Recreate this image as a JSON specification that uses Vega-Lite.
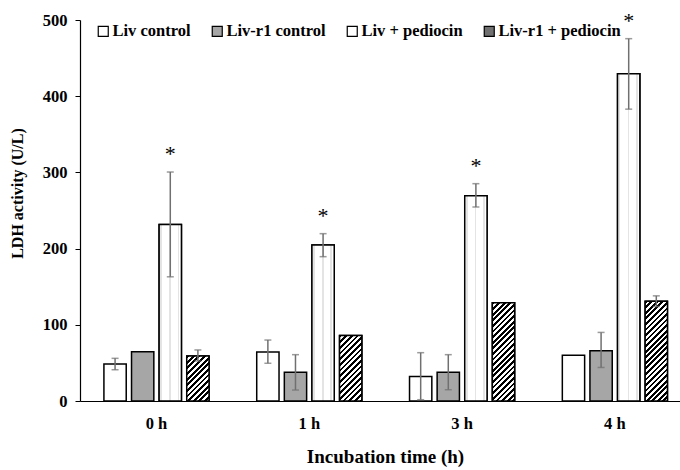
{
  "$schema": "https://vega.github.io/schema/vega-lite/v6.json",
  "width": 600,
  "height": 381,
  "autosize": {"type": "none"},
  "padding": {"left": 80, "top": 20, "right": 0, "bottom": 69},
  "background": "white",
  "config": {
    "view": {"stroke": null},
    "font": "Liberation Serif",
    "axis": {"labelFont": "Liberation Serif", "titleFont": "Liberation Serif", "labelFontWeight": "bold", "titleFontWeight": "bold", "labelColor": "black", "titleColor": "black", "domainColor": "black", "tickColor": "black", "grid": false, "labelOverlap": false},
    "axisY": {"tickCount": 10, "labelOverlap": false, "labelSeparation": 0, "labelBound": false, "labelFlush": false, "labelFontSize": 16.5, "tickSize": 5, "labelPadding": 8, "domainWidth": 1.2, "titleFontSize": 16, "titleX": -63, "titleY": 173, "titleAngle": -90, "titleBaseline": "middle", "titleAlign": "center"}
  },
  "data": {"values": [
    {"time": "0 h", "group": "Liv control", "value": 48.5, "lo": 41, "hi": 56, "star": false},
    {"time": "0 h", "group": "Liv-r1 control", "value": 64.5, "lo": null, "hi": null, "star": false},
    {"time": "0 h", "group": "Liv + pediocin", "value": 231.5, "lo": 163, "hi": 300.5, "star": true},
    {"time": "0 h", "group": "Liv-r1 + pediocin", "value": 59, "lo": 52.5, "hi": 67, "star": false},
    {"time": "1 h", "group": "Liv control", "value": 64.3, "lo": 49.5, "hi": 80, "star": false},
    {"time": "1 h", "group": "Liv-r1 control", "value": 37.6, "lo": 14.4, "hi": 60.8, "star": false},
    {"time": "1 h", "group": "Liv + pediocin", "value": 204.7, "lo": 189.4, "hi": 219.6, "star": true},
    {"time": "1 h", "group": "Liv-r1 + pediocin", "value": 86, "lo": null, "hi": null, "star": false},
    {"time": "3 h", "group": "Liv control", "value": 32, "lo": 1.7, "hi": 63.4, "star": false},
    {"time": "3 h", "group": "Liv-r1 control", "value": 37.6, "lo": 14.8, "hi": 60.8, "star": false},
    {"time": "3 h", "group": "Liv + pediocin", "value": 269.5, "lo": 254.6, "hi": 285.2, "star": true},
    {"time": "3 h", "group": "Liv-r1 + pediocin", "value": 129, "lo": null, "hi": null, "star": false},
    {"time": "4 h", "group": "Liv control", "value": 60, "lo": null, "hi": null, "star": false},
    {"time": "4 h", "group": "Liv-r1 control", "value": 66, "lo": 44, "hi": 90, "star": false},
    {"time": "4 h", "group": "Liv + pediocin", "value": 429.5, "lo": 383, "hi": 475.5, "star": true},
    {"time": "4 h", "group": "Liv-r1 + pediocin", "value": 131, "lo": 124, "hi": 138, "star": false}
  ]},
  "encoding": {
    "x": {
      "field": "time", "type": "nominal", "sort": ["0 h", "1 h", "3 h", "4 h"],
      "scale": {"paddingInner": 0.312, "paddingOuter": 0.1193, "align": 0.656, "round": false},
      "axis": {"title": "Incubation time (h)", "labelAngle": 0, "labelFontSize": 16.5, "ticks": false, "tickSize": 0, "labelPadding": 14, "domainWidth": 1.2, "titleFontSize": 19, "titleX": 305, "titleY": 61, "titleBaseline": "alphabetic", "titleAnchor": "middle", "titleAlign": "center"}
    },
    "xOffset": {"field": "group", "type": "nominal", "sort": ["Liv control", "Liv-r1 control", "Liv + pediocin", "Liv-r1 + pediocin"], "scale": {"paddingInner": 0.192, "paddingOuter": 0}}
  },
  "layer": [
    {
      "mark": {"type": "bar", "stroke": "black", "strokeWidth": 1.5},
      "encoding": {
        "y": {
          "field": "value", "type": "quantitative",
          "scale": {"domain": [0, 500], "nice": false},
          "axis": {"title": "LDH activity (U/L)", "values": [0, 50, 100, 150, 200, 250, 300, 350, 400, 450, 500], "tickCount": 10, "labelOverlap": false, "labelSeparation": 0, "labelBound": false}
        },
        "fill": {
          "field": "group", "type": "nominal",
          "sort": ["Liv control", "Liv-r1 control", "Liv + pediocin", "Liv-r1 + pediocin"],
          "scale": {"domain": ["Liv control", "Liv-r1 control", "Liv + pediocin", "Liv-r1 + pediocin"], "range": ["#ffffff", "#a6a6a6", "#ffffff", "#707070"]},
          "legend": {"title": null, "orient": "none", "direction": "horizontal", "legendX": 15, "legendY": 3, "symbolType": "square", "symbolSize": 100, "symbolStrokeColor": "black", "symbolStrokeWidth": 1.2, "labelFont": "Liberation Serif", "labelFontWeight": "bold", "labelFontSize": 16.5, "labelColor": "black", "labelOffset": 1, "columnPadding": 18, "padding": 0, "labelLimit": 300,
            "encoding": {"symbols": {
              "stroke": {"value": "black"},
              "strokeWidth": {"value": 1.2},
              "fill": {"condition": [
                {"test": "datum.value === 'Liv-r1 + pediocin'", "value": {"gradient": "linear", "x1": 0, "y1": 0, "x2": 1, "y2": 1, "stops": [
                  {"offset": 0, "color": "#000"}, {"offset": 0.2, "color": "#000"}, {"offset": 0.2, "color": "#fff"}, {"offset": 0.4, "color": "#fff"}, {"offset": 0.4, "color": "#000"}, {"offset": 0.6, "color": "#000"}, {"offset": 0.6, "color": "#fff"}, {"offset": 0.8, "color": "#fff"}, {"offset": 0.8, "color": "#000"}, {"offset": 1, "color": "#000"}]}},
                {"test": "datum.value === 'Liv-r1 control'", "value": "#a6a6a6"}
              ], "value": "#ffffff"}
            }}
          }
        }
      }
    },
    {
      "transform": [{"filter": "datum.group === 'Liv + pediocin'"}],
      "mark": {"type": "bar", "stroke": "black", "strokeWidth": 1.5, "fill": {"gradient": "linear", "x1": 0, "y1": 0, "x2": 1, "y2": 0, "stops": [
        {"offset": 0, "color": "#fff"}, {"offset": 0.06, "color": "#fff"}, {"offset": 0.06, "color": "#e4e4e4"}, {"offset": 0.13, "color": "#e4e4e4"}, {"offset": 0.13, "color": "#fff"},
        {"offset": 0.45, "color": "#fff"}, {"offset": 0.45, "color": "#e4e4e4"}, {"offset": 0.52, "color": "#e4e4e4"}, {"offset": 0.52, "color": "#fff"},
        {"offset": 0.83, "color": "#fff"}, {"offset": 0.83, "color": "#e4e4e4"}, {"offset": 0.9, "color": "#e4e4e4"}, {"offset": 0.9, "color": "#fff"}, {"offset": 1, "color": "#fff"}]}},
      "encoding": {"y": {"field": "value", "type": "quantitative", "axis": {"title": "LDH activity (U/L)", "values": [0, 50, 100, 150, 200, 250, 300, 350, 400, 450, 500], "tickCount": 10, "labelOverlap": false, "labelSeparation": 0, "labelBound": false}}}
    },
    {
      "transform": [{"filter": "datum.group === 'Liv-r1 + pediocin' && datum.time === '0 h'"}],
      "mark": {"type": "bar", "stroke": "black", "strokeWidth": 1.5, "fill": {"gradient": "linear", "x1": 0, "y1": 0, "x2": 0.5958, "y2": 1.2007, "stops": [
        {"offset": 0, "color": "#000"}, {"offset": 0.0417, "color": "#000"}, {"offset": 0.0417, "color": "#fff"}, {"offset": 0.0833, "color": "#fff"},
        {"offset": 0.0833, "color": "#000"}, {"offset": 0.125, "color": "#000"}, {"offset": 0.125, "color": "#fff"}, {"offset": 0.1667, "color": "#fff"},
        {"offset": 0.1667, "color": "#000"}, {"offset": 0.2083, "color": "#000"}, {"offset": 0.2083, "color": "#fff"}, {"offset": 0.25, "color": "#fff"},
        {"offset": 0.25, "color": "#000"}, {"offset": 0.2917, "color": "#000"}, {"offset": 0.2917, "color": "#fff"}, {"offset": 0.3333, "color": "#fff"},
        {"offset": 0.3333, "color": "#000"}, {"offset": 0.375, "color": "#000"}, {"offset": 0.375, "color": "#fff"}, {"offset": 0.4167, "color": "#fff"},
        {"offset": 0.4167, "color": "#000"}, {"offset": 0.4583, "color": "#000"}, {"offset": 0.4583, "color": "#fff"}, {"offset": 0.5, "color": "#fff"},
        {"offset": 0.5, "color": "#000"}, {"offset": 0.5417, "color": "#000"}, {"offset": 0.5417, "color": "#fff"}, {"offset": 0.5833, "color": "#fff"},
        {"offset": 0.5833, "color": "#000"}, {"offset": 0.625, "color": "#000"}, {"offset": 0.625, "color": "#fff"}, {"offset": 0.6667, "color": "#fff"},
        {"offset": 0.6667, "color": "#000"}, {"offset": 0.7083, "color": "#000"}, {"offset": 0.7083, "color": "#fff"}, {"offset": 0.75, "color": "#fff"},
        {"offset": 0.75, "color": "#000"}, {"offset": 0.7917, "color": "#000"}, {"offset": 0.7917, "color": "#fff"}, {"offset": 0.8333, "color": "#fff"},
        {"offset": 0.8333, "color": "#000"}, {"offset": 0.875, "color": "#000"}, {"offset": 0.875, "color": "#fff"}, {"offset": 0.9167, "color": "#fff"},
        {"offset": 0.9167, "color": "#000"}, {"offset": 0.9583, "color": "#000"}, {"offset": 0.9583, "color": "#fff"}, {"offset": 1, "color": "#fff"}]}},
      "encoding": {"y": {"field": "value", "type": "quantitative", "axis": {"title": "LDH activity (U/L)", "values": [0, 50, 100, 150, 200, 250, 300, 350, 400, 450, 500], "tickCount": 10, "labelOverlap": false, "labelSeparation": 0, "labelBound": false}}}
    },
    {
      "transform": [{"filter": "datum.group === 'Liv-r1 + pediocin' && datum.time === '1 h'"}],
      "mark": {"type": "bar", "stroke": "black", "strokeWidth": 1.5, "fill": {"gradient": "linear", "x1": 0, "y1": 0, "x2": 0.409, "y2": 1.2013, "stops": [
        {"offset": 0, "color": "#000"}, {"offset": 0.0323, "color": "#000"}, {"offset": 0.0323, "color": "#fff"}, {"offset": 0.0645, "color": "#fff"},
        {"offset": 0.0645, "color": "#000"}, {"offset": 0.0968, "color": "#000"}, {"offset": 0.0968, "color": "#fff"}, {"offset": 0.129, "color": "#fff"},
        {"offset": 0.129, "color": "#000"}, {"offset": 0.1613, "color": "#000"}, {"offset": 0.1613, "color": "#fff"}, {"offset": 0.1935, "color": "#fff"},
        {"offset": 0.1935, "color": "#000"}, {"offset": 0.2258, "color": "#000"}, {"offset": 0.2258, "color": "#fff"}, {"offset": 0.2581, "color": "#fff"},
        {"offset": 0.2581, "color": "#000"}, {"offset": 0.2903, "color": "#000"}, {"offset": 0.2903, "color": "#fff"}, {"offset": 0.3226, "color": "#fff"},
        {"offset": 0.3226, "color": "#000"}, {"offset": 0.3548, "color": "#000"}, {"offset": 0.3548, "color": "#fff"}, {"offset": 0.3871, "color": "#fff"},
        {"offset": 0.3871, "color": "#000"}, {"offset": 0.4194, "color": "#000"}, {"offset": 0.4194, "color": "#fff"}, {"offset": 0.4516, "color": "#fff"},
        {"offset": 0.4516, "color": "#000"}, {"offset": 0.4839, "color": "#000"}, {"offset": 0.4839, "color": "#fff"}, {"offset": 0.5161, "color": "#fff"},
        {"offset": 0.5161, "color": "#000"}, {"offset": 0.5484, "color": "#000"}, {"offset": 0.5484, "color": "#fff"}, {"offset": 0.5806, "color": "#fff"},
        {"offset": 0.5806, "color": "#000"}, {"offset": 0.6129, "color": "#000"}, {"offset": 0.6129, "color": "#fff"}, {"offset": 0.6452, "color": "#fff"},
        {"offset": 0.6452, "color": "#000"}, {"offset": 0.6774, "color": "#000"}, {"offset": 0.6774, "color": "#fff"}, {"offset": 0.7097, "color": "#fff"},
        {"offset": 0.7097, "color": "#000"}, {"offset": 0.7419, "color": "#000"}, {"offset": 0.7419, "color": "#fff"}, {"offset": 0.7742, "color": "#fff"},
        {"offset": 0.7742, "color": "#000"}, {"offset": 0.8065, "color": "#000"}, {"offset": 0.8065, "color": "#fff"}, {"offset": 0.8387, "color": "#fff"},
        {"offset": 0.8387, "color": "#000"}, {"offset": 0.871, "color": "#000"}, {"offset": 0.871, "color": "#fff"}, {"offset": 0.9032, "color": "#fff"},
        {"offset": 0.9032, "color": "#000"}, {"offset": 0.9355, "color": "#000"}, {"offset": 0.9355, "color": "#fff"}, {"offset": 0.9677, "color": "#fff"},
        {"offset": 0.9677, "color": "#000"}, {"offset": 1, "color": "#000"}]}},
      "encoding": {"y": {"field": "value", "type": "quantitative", "axis": {"title": "LDH activity (U/L)", "values": [0, 50, 100, 150, 200, 250, 300, 350, 400, 450, 500], "tickCount": 10, "labelOverlap": false, "labelSeparation": 0, "labelBound": false}}}
    },
    {
      "transform": [{"filter": "datum.group === 'Liv-r1 + pediocin' && datum.time === '3 h'"}],
      "mark": {"type": "bar", "stroke": "black", "strokeWidth": 1.5, "fill": {"gradient": "linear", "x1": 0, "y1": 0, "x2": 0.2648, "y2": 1.1668, "stops": [
        {"offset": 0, "color": "#000"}, {"offset": 0.0233, "color": "#000"}, {"offset": 0.0233, "color": "#fff"}, {"offset": 0.0465, "color": "#fff"},
        {"offset": 0.0465, "color": "#000"}, {"offset": 0.0698, "color": "#000"}, {"offset": 0.0698, "color": "#fff"}, {"offset": 0.093, "color": "#fff"},
        {"offset": 0.093, "color": "#000"}, {"offset": 0.1163, "color": "#000"}, {"offset": 0.1163, "color": "#fff"}, {"offset": 0.1395, "color": "#fff"},
        {"offset": 0.1395, "color": "#000"}, {"offset": 0.1628, "color": "#000"}, {"offset": 0.1628, "color": "#fff"}, {"offset": 0.186, "color": "#fff"},
        {"offset": 0.186, "color": "#000"}, {"offset": 0.2093, "color": "#000"}, {"offset": 0.2093, "color": "#fff"}, {"offset": 0.2326, "color": "#fff"},
        {"offset": 0.2326, "color": "#000"}, {"offset": 0.2558, "color": "#000"}, {"offset": 0.2558, "color": "#fff"}, {"offset": 0.2791, "color": "#fff"},
        {"offset": 0.2791, "color": "#000"}, {"offset": 0.3023, "color": "#000"}, {"offset": 0.3023, "color": "#fff"}, {"offset": 0.3256, "color": "#fff"},
        {"offset": 0.3256, "color": "#000"}, {"offset": 0.3488, "color": "#000"}, {"offset": 0.3488, "color": "#fff"}, {"offset": 0.3721, "color": "#fff"},
        {"offset": 0.3721, "color": "#000"}, {"offset": 0.3953, "color": "#000"}, {"offset": 0.3953, "color": "#fff"}, {"offset": 0.4186, "color": "#fff"},
        {"offset": 0.4186, "color": "#000"}, {"offset": 0.4419, "color": "#000"}, {"offset": 0.4419, "color": "#fff"}, {"offset": 0.4651, "color": "#fff"},
        {"offset": 0.4651, "color": "#000"}, {"offset": 0.4884, "color": "#000"}, {"offset": 0.4884, "color": "#fff"}, {"offset": 0.5116, "color": "#fff"},
        {"offset": 0.5116, "color": "#000"}, {"offset": 0.5349, "color": "#000"}, {"offset": 0.5349, "color": "#fff"}, {"offset": 0.5581, "color": "#fff"},
        {"offset": 0.5581, "color": "#000"}, {"offset": 0.5814, "color": "#000"}, {"offset": 0.5814, "color": "#fff"}, {"offset": 0.6047, "color": "#fff"},
        {"offset": 0.6047, "color": "#000"}, {"offset": 0.6279, "color": "#000"}, {"offset": 0.6279, "color": "#fff"}, {"offset": 0.6512, "color": "#fff"},
        {"offset": 0.6512, "color": "#000"}, {"offset": 0.6744, "color": "#000"}, {"offset": 0.6744, "color": "#fff"}, {"offset": 0.6977, "color": "#fff"},
        {"offset": 0.6977, "color": "#000"}, {"offset": 0.7209, "color": "#000"}, {"offset": 0.7209, "color": "#fff"}, {"offset": 0.7442, "color": "#fff"},
        {"offset": 0.7442, "color": "#000"}, {"offset": 0.7674, "color": "#000"}, {"offset": 0.7674, "color": "#fff"}, {"offset": 0.7907, "color": "#fff"},
        {"offset": 0.7907, "color": "#000"}, {"offset": 0.814, "color": "#000"}, {"offset": 0.814, "color": "#fff"}, {"offset": 0.8372, "color": "#fff"},
        {"offset": 0.8372, "color": "#000"}, {"offset": 0.8605, "color": "#000"}, {"offset": 0.8605, "color": "#fff"}, {"offset": 0.8837, "color": "#fff"},
        {"offset": 0.8837, "color": "#000"}, {"offset": 0.907, "color": "#000"}, {"offset": 0.907, "color": "#fff"}, {"offset": 0.9302, "color": "#fff"},
        {"offset": 0.9302, "color": "#000"}, {"offset": 0.9535, "color": "#000"}, {"offset": 0.9535, "color": "#fff"}, {"offset": 0.9767, "color": "#fff"},
        {"offset": 0.9767, "color": "#000"}, {"offset": 1, "color": "#000"}]}},
      "encoding": {"y": {"field": "value", "type": "quantitative", "axis": {"title": "LDH activity (U/L)", "values": [0, 50, 100, 150, 200, 250, 300, 350, 400, 450, 500], "tickCount": 10, "labelOverlap": false, "labelSeparation": 0, "labelBound": false}}}
    },
    {
      "transform": [{"filter": "datum.group === 'Liv-r1 + pediocin' && datum.time === '4 h'"}],
      "mark": {"type": "bar", "stroke": "black", "strokeWidth": 1.5, "fill": {"gradient": "linear", "x1": 0, "y1": 0, "x2": 0.2604, "y2": 1.1652, "stops": [
        {"offset": 0, "color": "#000"}, {"offset": 0.0227, "color": "#000"}, {"offset": 0.0227, "color": "#fff"}, {"offset": 0.0455, "color": "#fff"},
        {"offset": 0.0455, "color": "#000"}, {"offset": 0.0682, "color": "#000"}, {"offset": 0.0682, "color": "#fff"}, {"offset": 0.0909, "color": "#fff"},
        {"offset": 0.0909, "color": "#000"}, {"offset": 0.1136, "color": "#000"}, {"offset": 0.1136, "color": "#fff"}, {"offset": 0.1364, "color": "#fff"},
        {"offset": 0.1364, "color": "#000"}, {"offset": 0.1591, "color": "#000"}, {"offset": 0.1591, "color": "#fff"}, {"offset": 0.1818, "color": "#fff"},
        {"offset": 0.1818, "color": "#000"}, {"offset": 0.2045, "color": "#000"}, {"offset": 0.2045, "color": "#fff"}, {"offset": 0.2273, "color": "#fff"},
        {"offset": 0.2273, "color": "#000"}, {"offset": 0.25, "color": "#000"}, {"offset": 0.25, "color": "#fff"}, {"offset": 0.2727, "color": "#fff"},
        {"offset": 0.2727, "color": "#000"}, {"offset": 0.2955, "color": "#000"}, {"offset": 0.2955, "color": "#fff"}, {"offset": 0.3182, "color": "#fff"},
        {"offset": 0.3182, "color": "#000"}, {"offset": 0.3409, "color": "#000"}, {"offset": 0.3409, "color": "#fff"}, {"offset": 0.3636, "color": "#fff"},
        {"offset": 0.3636, "color": "#000"}, {"offset": 0.3864, "color": "#000"}, {"offset": 0.3864, "color": "#fff"}, {"offset": 0.4091, "color": "#fff"},
        {"offset": 0.4091, "color": "#000"}, {"offset": 0.4318, "color": "#000"}, {"offset": 0.4318, "color": "#fff"}, {"offset": 0.4545, "color": "#fff"},
        {"offset": 0.4545, "color": "#000"}, {"offset": 0.4773, "color": "#000"}, {"offset": 0.4773, "color": "#fff"}, {"offset": 0.5, "color": "#fff"},
        {"offset": 0.5, "color": "#000"}, {"offset": 0.5227, "color": "#000"}, {"offset": 0.5227, "color": "#fff"}, {"offset": 0.5455, "color": "#fff"},
        {"offset": 0.5455, "color": "#000"}, {"offset": 0.5682, "color": "#000"}, {"offset": 0.5682, "color": "#fff"}, {"offset": 0.5909, "color": "#fff"},
        {"offset": 0.5909, "color": "#000"}, {"offset": 0.6136, "color": "#000"}, {"offset": 0.6136, "color": "#fff"}, {"offset": 0.6364, "color": "#fff"},
        {"offset": 0.6364, "color": "#000"}, {"offset": 0.6591, "color": "#000"}, {"offset": 0.6591, "color": "#fff"}, {"offset": 0.6818, "color": "#fff"},
        {"offset": 0.6818, "color": "#000"}, {"offset": 0.7045, "color": "#000"}, {"offset": 0.7045, "color": "#fff"}, {"offset": 0.7273, "color": "#fff"},
        {"offset": 0.7273, "color": "#000"}, {"offset": 0.75, "color": "#000"}, {"offset": 0.75, "color": "#fff"}, {"offset": 0.7727, "color": "#fff"},
        {"offset": 0.7727, "color": "#000"}, {"offset": 0.7955, "color": "#000"}, {"offset": 0.7955, "color": "#fff"}, {"offset": 0.8182, "color": "#fff"},
        {"offset": 0.8182, "color": "#000"}, {"offset": 0.8409, "color": "#000"}, {"offset": 0.8409, "color": "#fff"}, {"offset": 0.8636, "color": "#fff"},
        {"offset": 0.8636, "color": "#000"}, {"offset": 0.8864, "color": "#000"}, {"offset": 0.8864, "color": "#fff"}, {"offset": 0.9091, "color": "#fff"},
        {"offset": 0.9091, "color": "#000"}, {"offset": 0.9318, "color": "#000"}, {"offset": 0.9318, "color": "#fff"}, {"offset": 0.9545, "color": "#fff"},
        {"offset": 0.9545, "color": "#000"}, {"offset": 0.9773, "color": "#000"}, {"offset": 0.9773, "color": "#fff"}, {"offset": 1, "color": "#fff"}]}},
      "encoding": {"y": {"field": "value", "type": "quantitative", "axis": {"title": "LDH activity (U/L)", "values": [0, 50, 100, 150, 200, 250, 300, 350, 400, 450, 500], "tickCount": 10, "labelOverlap": false, "labelSeparation": 0, "labelBound": false}}}
    },
    {
      "transform": [{"filter": "isValid(datum.lo)"}],
      "mark": {"type": "rule", "color": "#707070", "strokeWidth": 1.5},
      "encoding": {"y": {"field": "lo", "type": "quantitative", "axis": {"title": "LDH activity (U/L)", "values": [0, 50, 100, 150, 200, 250, 300, 350, 400, 450, 500], "tickCount": 10, "labelOverlap": false, "labelSeparation": 0, "labelBound": false}}, "y2": {"field": "hi"}}
    },
    {
      "transform": [{"filter": "isValid(datum.lo)"}],
      "mark": {"type": "tick", "color": "#707070", "thickness": 1.5, "size": 7, "orient": "horizontal"},
      "encoding": {"y": {"field": "lo", "type": "quantitative", "axis": {"title": "LDH activity (U/L)", "values": [0, 50, 100, 150, 200, 250, 300, 350, 400, 450, 500], "tickCount": 10, "labelOverlap": false, "labelSeparation": 0, "labelBound": false}}}
    },
    {
      "transform": [{"filter": "isValid(datum.hi)"}],
      "mark": {"type": "tick", "color": "#707070", "thickness": 1.5, "size": 7, "orient": "horizontal"},
      "encoding": {"y": {"field": "hi", "type": "quantitative", "axis": {"title": "LDH activity (U/L)", "values": [0, 50, 100, 150, 200, 250, 300, 350, 400, 450, 500], "tickCount": 10, "labelOverlap": false, "labelSeparation": 0, "labelBound": false}}}
    },
    {
      "transform": [{"filter": "datum.star"}],
      "mark": {"type": "text", "text": "*", "font": "Liberation Serif", "fontSize": 22, "baseline": "alphabetic", "dy": -11, "color": "black"},
      "encoding": {"y": {"field": "hi", "type": "quantitative", "axis": {"title": "LDH activity (U/L)", "values": [0, 50, 100, 150, 200, 250, 300, 350, 400, 450, 500], "tickCount": 10, "labelOverlap": false, "labelSeparation": 0, "labelBound": false}}}
    }
  ]
}
